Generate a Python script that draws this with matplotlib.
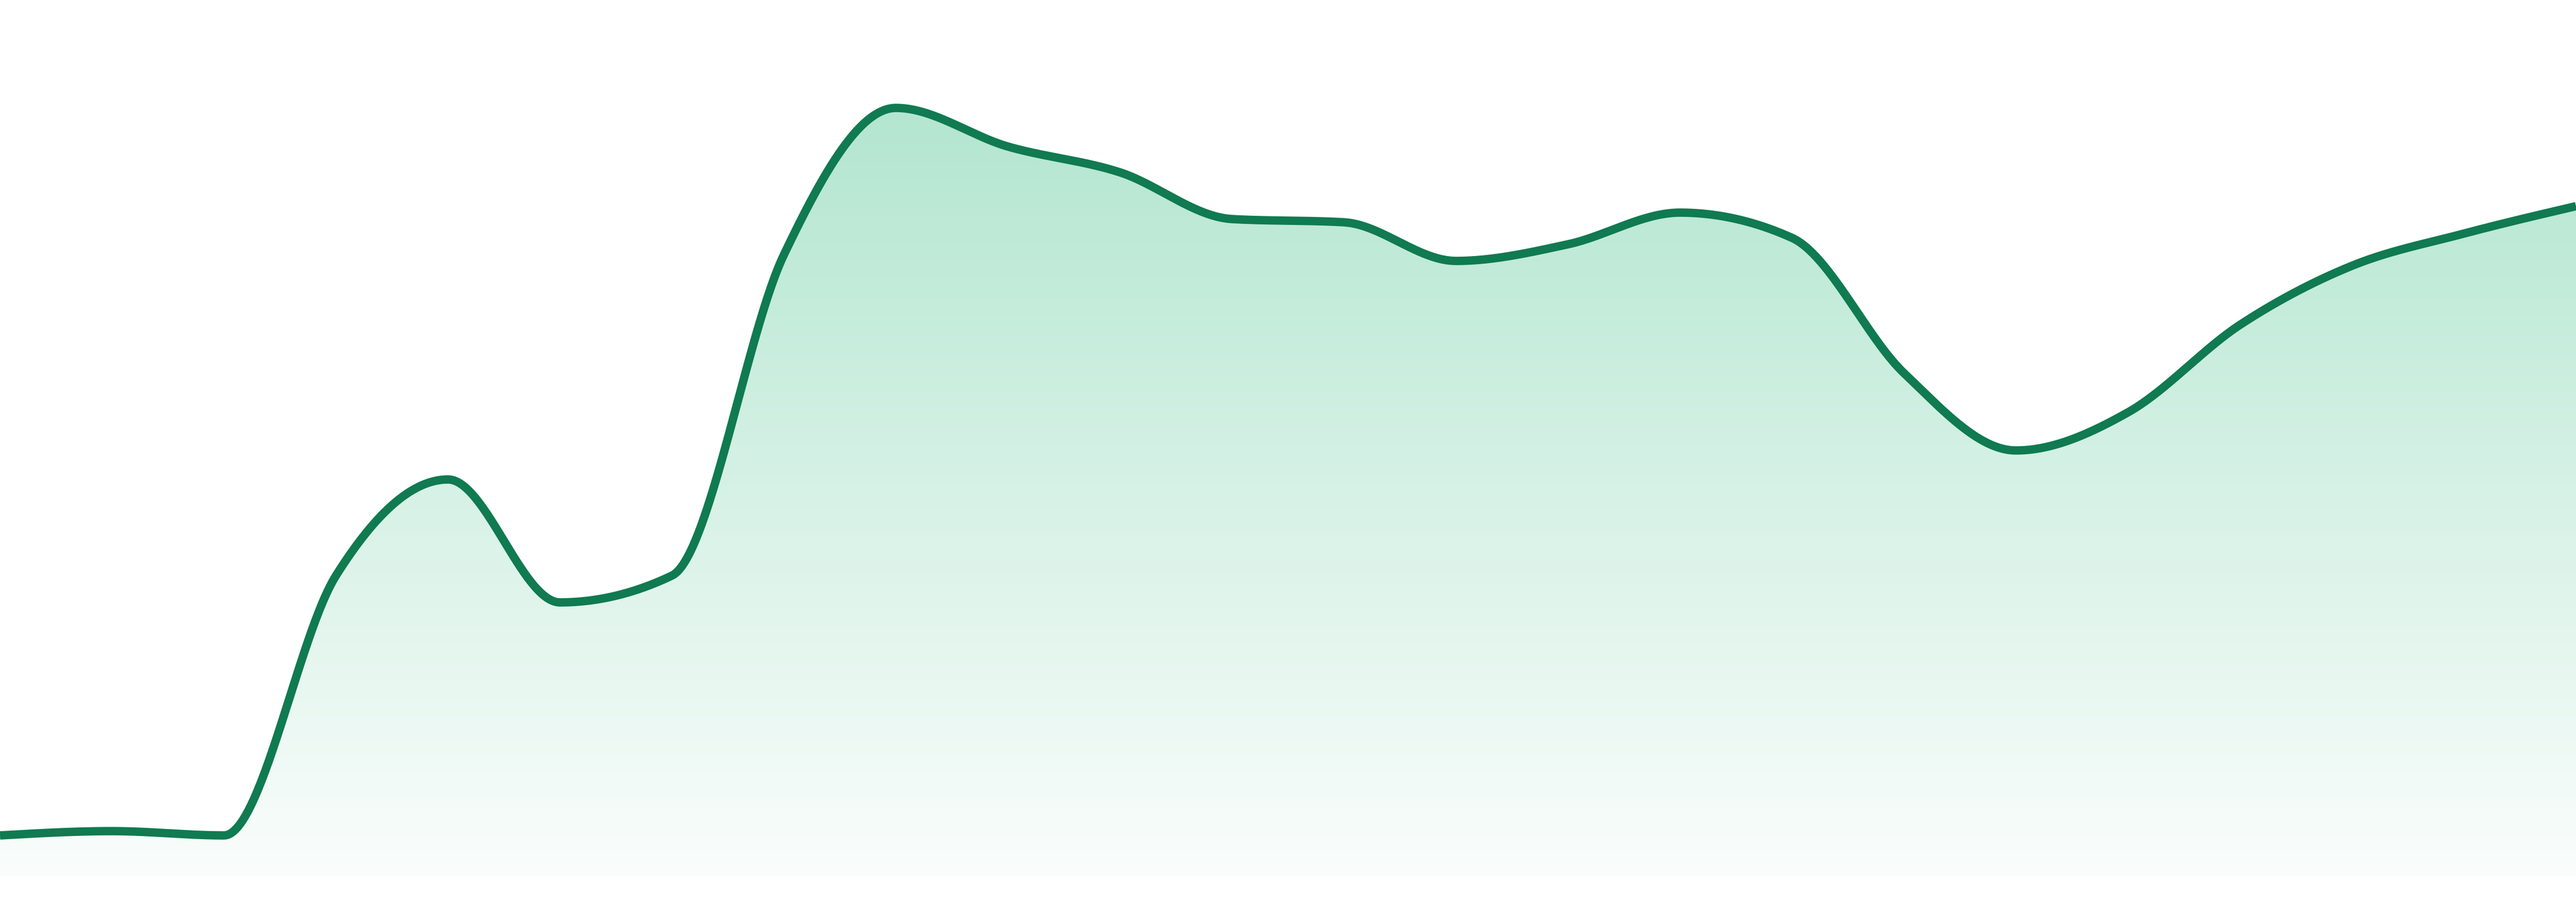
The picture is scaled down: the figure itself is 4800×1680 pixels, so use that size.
import numpy as np
import matplotlib
matplotlib.use("Agg")
import matplotlib.pyplot as plt
from matplotlib.colors import LinearSegmentedColormap

# ---- data ----
x_index = list(range(24))
values = [7.6, 8.4, 7.6, 56.0, 73.9, 51.0, 56.0, 115.8, 143.1, 135.9, 131.1,
          122.4, 121.8, 114.6, 117.7, 123.6, 118.9, 93.7, 79.3, 86.4, 102.7,
          113.7, 119.7, 124.8]

LINE_COLOR = "#107a51"
TOP_COLOR = "#b3e6d0"
BOTTOM_COLOR = "#fafdfc"


def monotone_x(xs, ys, n=60):
    """Monotone cubic interpolation (same as d3.curveMonotoneX)."""
    xs = np.asarray(xs, float)
    ys = np.asarray(ys, float)
    m = len(xs)
    h = np.diff(xs)
    s = np.diff(ys) / h
    t = np.zeros(m)
    for i in range(1, m - 1):
        s0, s1 = s[i - 1], s[i]
        h0, h1 = h[i - 1], h[i]
        p = (s0 * h1 + s1 * h0) / (h0 + h1)
        t[i] = (np.sign(s0) + np.sign(s1)) * min(abs(s0), abs(s1), 0.5 * abs(p))
    t[0] = (3 * s[0] - t[1]) / 2
    t[-1] = (3 * s[-1] - t[-2]) / 2
    out_x, out_y = [], []
    for i in range(m - 1):
        u = np.linspace(0, 1, n, endpoint=(i == m - 2))
        dx = h[i]
        h00 = 2 * u**3 - 3 * u**2 + 1
        h10 = u**3 - 2 * u**2 + u
        h01 = -2 * u**3 + 3 * u**2
        h11 = u**3 - u**2
        out_x.append(xs[i] + u * dx)
        out_y.append(h00 * ys[i] + h10 * dx * t[i] + h01 * ys[i + 1] + h11 * dx * t[i + 1])
    return np.concatenate(out_x), np.concatenate(out_y)


cx, cy = monotone_x(x_index, values)

fig = plt.figure(figsize=(16, 5.6), dpi=300)
ax = fig.add_axes([0, 0, 1, 1])
ax.set_xlim(0, 23)
ax.set_ylim(-4.8, 163.2)
ax.axis("off")

# gradient area
area = ax.fill_between(cx, cy, 0, facecolor="none", edgecolor="none")
top = max(values)
cmap = LinearSegmentedColormap.from_list("g", [BOTTOM_COLOR, TOP_COLOR])
grad = np.linspace(0, 1, 256).reshape(-1, 1)
img = ax.imshow(grad, cmap=cmap, origin="lower", aspect="auto",
                extent=[0, 23, 0, top], interpolation="bicubic", zorder=1)
path = area.get_paths()[0]
img.set_clip_path(path, transform=ax.transData)

ax.plot(cx, cy, color=LINE_COLOR, linewidth=3.75, solid_capstyle="butt",
        solid_joinstyle="round", zorder=3)

fig.savefig("out.png", dpi=300, facecolor="white")
